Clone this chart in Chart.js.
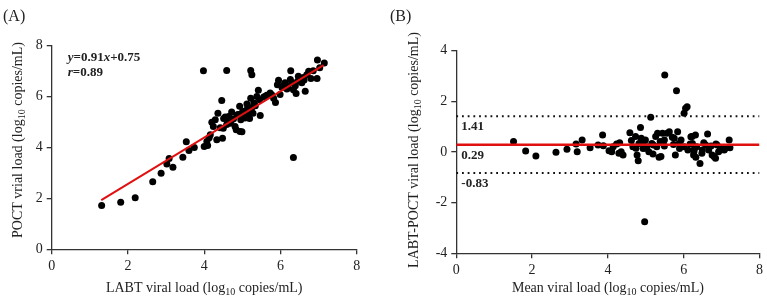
<!DOCTYPE html>
<html>
<head>
<meta charset="utf-8">
<script src="https://cdn.jsdelivr.net/npm/chart.js@4.4.0/dist/chart.umd.min.js"></script>
<style>
  html, body { margin: 0; padding: 0; background: #fff; }
  #wrap { position: relative; width: 767px; height: 305px; overflow: hidden; }
  #chart-a { position: absolute; left: 0; top: 0; }
  #chart-b { position: absolute; left: 385px; top: 0; }
</style>
</head>
<body>
<div id="wrap">
  <canvas id="chart-a" width="385" height="305"></canvas>
  <canvas id="chart-b" width="382" height="305"></canvas>
</div>
<script>
// Panel A: LABT vs POCT (log10 copies/mL)
const labtX = [1.31, 1.81, 2.19, 2.65, 2.87, 3.02, 3.08, 3.18, 3.44, 3.53, 3.60, 3.74, 3.98, 4.00, 4.07, 4.09,
  4.13, 4.16, 4.20, 4.24, 4.29, 4.33, 4.36, 4.42, 4.46, 4.48, 4.50, 4.51, 4.59, 4.59, 4.62, 4.64, 4.70, 4.72,
  4.77, 4.81, 4.84, 4.87, 4.93, 4.94, 4.96, 4.99, 5.01, 5.07, 5.12, 5.14, 5.16, 5.19, 5.22, 5.25, 5.22, 5.25,
  5.28, 5.34, 5.38, 5.42, 5.47, 5.45, 5.56, 5.60, 5.64, 5.73, 5.77, 5.82, 5.87, 5.92, 5.95, 5.99, 6.04, 6.12,
  6.17, 6.26, 6.27, 6.34, 6.34, 6.39, 6.41, 6.47, 6.56, 6.65, 6.69, 6.74, 6.80, 6.86, 6.96, 6.97, 7.03, 7.15,
  4.55, 4.68, 4.90, 5.05, 5.10, 5.30, 6.08, 6.20, 6.30, 6.45, 6.52, 6.60, 6.62];
const poctY = [1.72, 1.85, 2.03, 2.65, 2.99, 3.35, 3.57, 3.22, 3.62, 4.23, 3.88, 4.00, 7.02, 4.04, 4.24, 4.08,
  4.38, 4.50, 4.99, 4.83, 5.09, 4.30, 5.35, 4.78, 5.85, 4.36, 4.76, 5.14, 7.03, 4.90, 5.02, 5.22, 5.01, 5.39,
  5.13, 4.83, 4.70, 5.29, 5.62, 4.63, 5.09, 4.62, 5.42, 5.16, 5.71, 5.52, 5.35, 5.14, 7.03, 6.86, 5.94, 5.57,
  5.35, 5.64, 6.00, 6.25, 5.26, 5.88, 5.98, 6.00, 6.05, 6.14, 6.07, 5.94, 5.77, 6.47, 6.64, 6.08, 6.36, 6.54,
  6.30, 6.67, 7.02, 6.27, 3.61, 6.43, 6.12, 6.80, 6.54, 6.21, 6.86, 7.00, 6.71, 7.02, 6.71, 7.44, 7.13, 7.32,
  5.20, 4.95, 5.30, 5.30, 5.45, 5.75, 6.45, 6.40, 6.55, 6.60, 6.70, 6.75, 6.65];
const fitLineX = [1.30, 7.13];
const fitLineY = [1.93, 7.24];

// Panel B: Bland-Altman (mean vs difference)
const meanX = [1.51, 1.83, 2.10, 2.63, 2.92, 3.16, 3.19, 3.32, 3.53, 3.74, 3.86, 3.88, 4.03, 4.10, 4.14, 4.23,
  4.29, 4.31, 4.40, 4.35, 4.58, 4.62, 4.66, 4.73, 4.74, 4.77, 4.80, 4.82, 4.86, 4.88, 4.92, 4.93, 4.97, 4.99,
  5.00, 5.03, 5.08, 5.13, 5.16, 5.19, 5.20, 5.26, 5.29, 5.31, 5.35, 5.38, 5.40, 5.44, 5.49, 5.49, 5.50, 5.56,
  5.62, 5.70, 5.73, 5.75, 5.78, 5.81, 5.84, 5.88, 5.89, 5.93, 6.01, 6.01, 6.05, 6.09, 6.11, 6.17, 6.19, 6.22,
  6.23, 6.26, 6.27, 6.28, 6.31, 6.32, 6.34, 6.43, 6.48, 6.49, 6.53, 6.58, 6.63, 6.66, 6.72, 6.75, 6.80, 6.84,
  6.85, 6.88, 6.92, 6.97, 6.98, 7.07, 7.10, 7.20, 7.22];
const diffY = [0.41, 0.04, -0.16, -0.01, 0.11, 0.32, 0.01, 0.47, 0.17, 0.28, 0.67, 0.25, 0.05, 0.01, 0.21, 0.32,
  -0.05, 0.37, -0.12, 0.01, 0.76, 0.45, 0.21, 0.61, 0.15, -0.12, -0.35, 0.34, 0.97, 0.54, 0.34, 0.14, -2.75, 0.47,
  0.15, 0.21, 0.01, 1.37, 0.34, -0.08, 0.28, 0.61, 0.21, 0.74, -0.21, 0.41, -0.18, 0.74, 0.24, 0.47, 3.04, 0.74,
  0.80, 0.58, 0.30, 0.54, -0.12, 2.42, 0.80, 0.34, 0.14, 0.47, 1.53, 0.21, 1.73, 1.79, 0.08, 0.32, 0.60, 0.61,
  0.34, -0.12, 0.01, 0.11, 0.67, -0.21, 0.21, -0.45, -0.05, 0.08, 0.37, 0.28, 0.71, 0.08, 0.24, -0.12, -0.18, -0.25,
  0.32, 0.28, 0.01, 0.08, 0.14, 0.08, 0.15, 0.47, 0.17];
const biasMean = 0.29;
const loaUpper = 1.41;
const loaLower = -0.83;

const ticksA = [0, 2, 4, 6, 8];
const ticksBy = [-4, -2, 0, 2, 4];

const SERIF = '"Liberation Serif", "Times New Roman", serif';
const INK = '#222';

function toPoints(xs, ys) {
  return xs.map((x, i) => ({ x: x, y: ys[i] }));
}

// draws a run of text pieces (used for subscripts and italic letters)
function drawRun(ctx, runs, x, y, align, angle) {
  ctx.save();
  ctx.translate(x, y);
  if (angle) ctx.rotate(angle);
  let total = 0;
  runs.forEach(r => { ctx.font = r.font; total += ctx.measureText(r.text).width; });
  let cx = align === 'center' ? -total / 2 : 0;
  ctx.textAlign = 'left';
  ctx.textBaseline = 'alphabetic';
  runs.forEach(r => {
    ctx.font = r.font;
    ctx.fillText(r.text, cx, r.dy || 0);
    cx += ctx.measureText(r.text).width;
  });
  ctx.restore();
}

function logTitle(before) {
  return [
    { text: before + '(log', font: '14px ' + SERIF },
    { text: '10', font: '10px ' + SERIF, dy: 3 },
    { text: ' copies/mL)', font: '14px ' + SERIF }
  ];
}

const textPlugin = {
  id: 'panelText',
  afterDraw(chart, args, opts) {
    const ctx = chart.ctx;
    const a = chart.chartArea;
    ctx.save();
    ctx.fillStyle = INK;
    drawRun(ctx, [{ text: opts.panel, font: '16px ' + SERIF }], opts.panelX, 21, 'left');
    drawRun(ctx, logTitle(opts.xTitle), (a.left + a.right) / 2, 292, 'center');
    drawRun(ctx, logTitle(opts.yTitle), opts.yTitleX, opts.yTitleY, 'center', -Math.PI / 2);
    if (opts.notes) opts.notes(chart, ctx);
    ctx.restore();
  }
};

function axis(min, max, ticks, fit) {
  return {
    type: 'linear',
    min: min,
    max: max,
    afterBuildTicks: s => { s.ticks = ticks.map(v => ({ value: v })); },
    afterFit: fit,
    ticks: { font: { family: SERIF, size: 14 }, color: INK, padding: 4 },
    grid: { drawOnChartArea: false, drawTicks: true, tickLength: 5, color: '#333', lineWidth: 1.3 },
    border: { display: true, color: '#333', width: 1.3 },
    title: { display: false }
  };
}

const dotStyle = { pointRadius: 3.5, pointHoverRadius: 3.5, backgroundColor: '#000', borderWidth: 0, showLine: false };

new Chart(document.getElementById('chart-a'), {
  type: 'scatter',
  data: {
    datasets: [
      Object.assign({ data: toPoints(labtX, poctY), order: 2 }, dotStyle),
      { data: toPoints(fitLineX, fitLineY), showLine: true, borderColor: '#e01010', borderWidth: 2,
        pointRadius: 0, order: 1 }
    ]
  },
  options: {
    responsive: false,
    animation: false,
    layout: { padding: { left: 0, right: 28.3, top: 45.7, bottom: 0 } },
    scales: {
      x: axis(0, 8, ticksA, s => { s.height = 55.7; }),
      y: axis(0, 8, ticksA, s => { s.width = 51.7; })
    },
    plugins: {
      legend: { display: false },
      tooltip: { enabled: false },
      panelText: {
        panel: '(A)', panelX: 3,
        xTitle: 'LABT viral load ',
        yTitle: 'POCT vrial load ', yTitleX: 22, yTitleY: 140,
        notes: (chart, ctx) => {
          const a = chart.chartArea;
          const b = 'bold 13px ' + SERIF, bi = 'italic bold 13px ' + SERIF;
          drawRun(ctx, [{ text: 'y', font: bi }, { text: '=0.91', font: b }, { text: 'x', font: bi },
            { text: '+0.75', font: b }], a.left + 16, a.top + 15, 'left');
          drawRun(ctx, [{ text: 'r', font: bi }, { text: '=0.89', font: b }], a.left + 16, a.top + 30, 'left');
        }
      }
    }
  },
  plugins: [textPlugin]
});

function hLine(v, color, width, dash) {
  return { data: [{ x: 0, y: v }, { x: 8, y: v }], showLine: true, borderColor: color, borderWidth: width,
    borderDash: dash, pointRadius: 0, order: 1 };
}

new Chart(document.getElementById('chart-b'), {
  type: 'scatter',
  data: {
    datasets: [
      Object.assign({ data: toPoints(meanX, diffY), order: 2 }, dotStyle),
      hLine(biasMean, '#e01010', 2.5, []),
      hLine(loaUpper, '#111', 2, [1.8, 3.9]),
      hLine(loaLower, '#111', 2, [1.8, 3.9])
    ]
  },
  options: {
    responsive: false,
    animation: false,
    layout: { padding: { left: 0, right: 6.3, top: 50.7, bottom: 0 } },
    scales: {
      x: axis(0, 8, ticksA, s => { s.height = 51.7; }),
      y: axis(-4, 4, ticksBy, s => { s.width = 71.3; })
    },
    plugins: {
      legend: { display: false },
      tooltip: { enabled: false },
      panelText: {
        panel: '(B)', panelX: 5,
        xTitle: 'Mean viral load ',
        yTitle: 'LABT-POCT viral load ', yTitleX: 33, yTitleY: 150,
        notes: (chart, ctx) => {
          const y = chart.scales.y;
          const left = chart.chartArea.left + 5;
          const b = 'bold 13px ' + SERIF;
          [loaUpper, biasMean, loaLower].forEach(v => {
            drawRun(ctx, [{ text: v.toFixed(2), font: b }], left, y.getPixelForValue(v) + 14, 'left');
          });
        }
      }
    }
  },
  plugins: [textPlugin]
});
</script>
</body>
</html>
